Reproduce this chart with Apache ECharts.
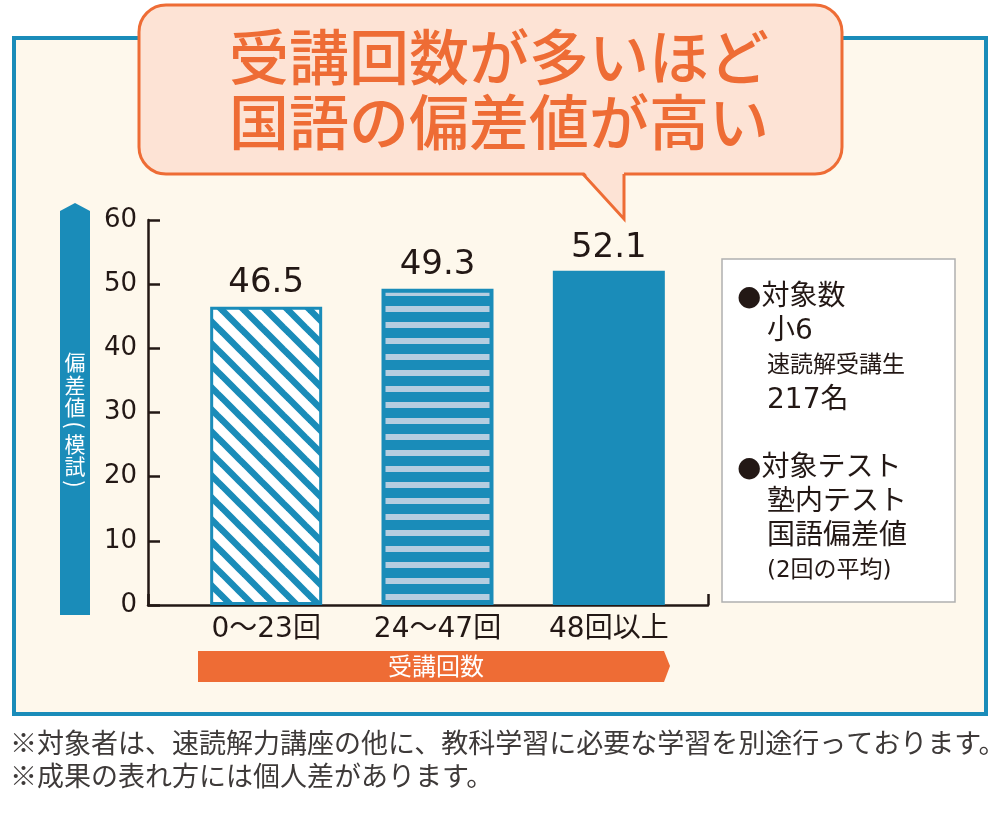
<!DOCTYPE html>
<html>
<head>
<meta charset="utf-8">
<script src="https://cdn.jsdelivr.net/npm/echarts@6/dist/echarts.min.js"></script>
<style>
  html, body { margin: 0; padding: 0; background: #fff; }
  #chart { width: 1000px; height: 816px; }
</style>
</head>
<body>
<div id="chart"></div>
<script>
// データ
const categories = ['0〜23回', '24〜47回', '48回以上'];
const values = [46.5, 49.3, 52.1];
const yMin = 0, yMax = 60, yStep = 10;
const titleLines = ['受講回数が多いほど', '国語の偏差値が高い'];
const yName = '偏差値（模試）';
const xName = '受講回数';
const noteLines = [
  ['●対象数', 28, 0],
  ['小6', 28, 1],
  ['速読解受講生', 23, 1],
  ['217名', 28, 1],
  ['', 28, 1],
  ['●対象テスト', 28, 0],
  ['塾内テスト', 28, 1],
  ['国語偏差値', 28, 1],
  ['(2回の平均)', 23, 1]
];
const footnotes = [
  '※対象者は、速読解力講座の他に、教科学習に必要な学習を別途行っております。',
  '※成果の表れ方には個人差があります。'
];

const teal = '#1a8cb9';
const orange = '#ee6c35';
const ink = '#231815';
const font = '"Noto Sans CJK JP", "Noto Sans", sans-serif';
const numFont = '"DejaVu Sans", "Noto Sans CJK JP", sans-serif';

// 斜線パターン
function diagPattern() {
  const c = document.createElement('canvas');
  c.width = 22; c.height = 22;
  const g = c.getContext('2d');
  g.fillStyle = '#fff';
  g.fillRect(0, 0, 22, 22);
  g.strokeStyle = teal;
  g.lineWidth = 6.5;
  [-22, 0, 22].forEach(function (o) {
    g.beginPath();
    g.moveTo(o - 5, -5);
    g.lineTo(o + 27, 27);
    g.stroke();
  });
  return c;
}
// 横縞パターン
function hPattern() {
  const c = document.createElement('canvas');
  c.width = 16; c.height = 16;
  const g = c.getContext('2d');
  g.fillStyle = teal;
  g.fillRect(0, 0, 16, 16);
  g.fillStyle = '#b5cde0';
  g.fillRect(0, 2, 16, 6);
  return c;
}

const barStyles = [
  { color: { image: diagPattern(), repeat: 'repeat' }, borderColor: teal, borderWidth: 3 },
  { color: { image: hPattern(), repeat: 'repeat' }, borderColor: teal, borderWidth: 4 },
  { color: teal }
];

function txt(text, x, y, size, fill, align, weight, fam) {
  return {
    type: 'text', z: 20,
    style: {
      text: text, x: x, y: y, fill: fill,
      font: (weight ? weight + ' ' : '') + size + 'px ' + (fam || font),
      textAlign: align || 'left', align: align || 'left',
      textVerticalAlign: 'middle', verticalAlign: 'middle'
    }
  };
}

const graphics = [
  // 外枠
  { type: 'rect', z: -1, shape: { x: 14, y: 38, width: 972, height: 676 },
    style: { fill: '#fef8ec', stroke: teal, lineWidth: 4 } },
  // 吹き出し
  { type: 'rect', z: 10, shape: { x: 139, y: 5, width: 703, height: 169, r: 27 },
    style: { fill: '#fde3d5', stroke: orange, lineWidth: 3 } },
  { type: 'polygon', z: 11, shape: { points: [[584, 172], [624, 172], [624, 218]] },
    style: { fill: '#fde3d5' } },
  { type: 'polyline', z: 11, shape: { points: [[583, 174], [624, 219], [624, 174]] },
    style: { stroke: orange, lineWidth: 3, fill: null } },
  // 縦軸の帯
  { type: 'polygon', z: 5,
    shape: { points: [[60, 211], [75, 203], [90, 211], [90, 615], [60, 615]] },
    style: { fill: teal } },
  // 横軸の帯
  { type: 'polygon', z: 5,
    shape: { points: [[198, 651], [664, 651], [670, 666], [664, 682], [198, 682]] },
    style: { fill: orange } },
  txt(xName, 436, 666, 24, '#fff', 'center'),
  // 注記ボックス
  { type: 'rect', z: 5, shape: { x: 722, y: 259, width: 233, height: 343 },
    style: { fill: '#fff', stroke: '#b0b0b0', lineWidth: 1.5 } }
];

titleLines.forEach(function (t, i) {
  graphics.push(txt(t, 499, 57 + i * 65, 60, orange, 'center', 500));
});

// 縦書きの軸名
const yNameY = [362, 385, 407, 425, 444, 466, 484];
yName.split('').forEach(function (ch, i) {
  if (ch === '（' || ch === '）') {
    const el = txt(ch === '（' ? '(' : ')', 0, 0, 22, '#fff', 'center');
    el.x = 75; el.y = yNameY[i]; el.rotation = -Math.PI / 2;
    graphics.push(el);
  } else {
    graphics.push(txt(ch, 75, yNameY[i], 21, '#fff', 'center'));
  }
});

let ny = 298;
noteLines.forEach(function (row) {
  if (row[0]) graphics.push(txt(row[0], row[2] ? 767 : 737, ny, row[1], ink, 'left', null, numFont));
  ny += row[1] < 26 ? 35 : 34;
});

footnotes.forEach(function (t, i) {
  graphics.push(txt(t, 10, 743 + i * 33, 27, '#3e3a39', 'left'));
});

const chart = echarts.init(document.getElementById('chart'));
chart.setOption({
  backgroundColor: '#fff',
  animation: false,
  textStyle: { fontFamily: font },
  graphic: graphics,
  grid: [
    { left: 148, right: 292, top: 220, bottom: 211 },
    { left: 180.5, right: 305.5, top: 220, bottom: 211 }
  ],
  xAxis: [
    { type: 'value', gridIndex: 0, min: 0, max: 1, interval: 1,
      axisLine: { show: true, lineStyle: { color: ink, width: 2.5 } },
      axisTick: { show: true, inside: true, length: 11, lineStyle: { color: ink, width: 2.5 } },
      axisLabel: { show: false }, splitLine: { show: false } },
    { type: 'category', gridIndex: 1, data: categories,
      axisLine: { show: false }, axisTick: { show: false },
      axisLabel: { interval: 0, hideOverlap: false, fontSize: 28, color: ink, margin: 11, fontFamily: numFont } }
  ],
  yAxis: [
    { type: 'value', gridIndex: 0, min: yMin, max: yMax, interval: yStep,
      axisLine: { show: true, lineStyle: { color: ink, width: 2.5 } },
      axisTick: { show: true, inside: true, length: 12, lineStyle: { color: ink, width: 2.5 } },
      axisLabel: { fontSize: 26, color: ink, margin: 11, fontFamily: numFont },
      splitLine: { show: false } },
    { type: 'value', gridIndex: 1, min: yMin, max: yMax, interval: yStep, show: false }
  ],
  series: [{
    type: 'bar',
    xAxisIndex: 1, yAxisIndex: 1,
    barWidth: 112,
    data: values.map(function (v, i) { return { value: v, itemStyle: barStyles[i] }; }),
    label: { show: true, position: 'top', distance: 6, fontSize: 34, color: ink, fontFamily: numFont }
  }]
});
</script>
</body>
</html>
